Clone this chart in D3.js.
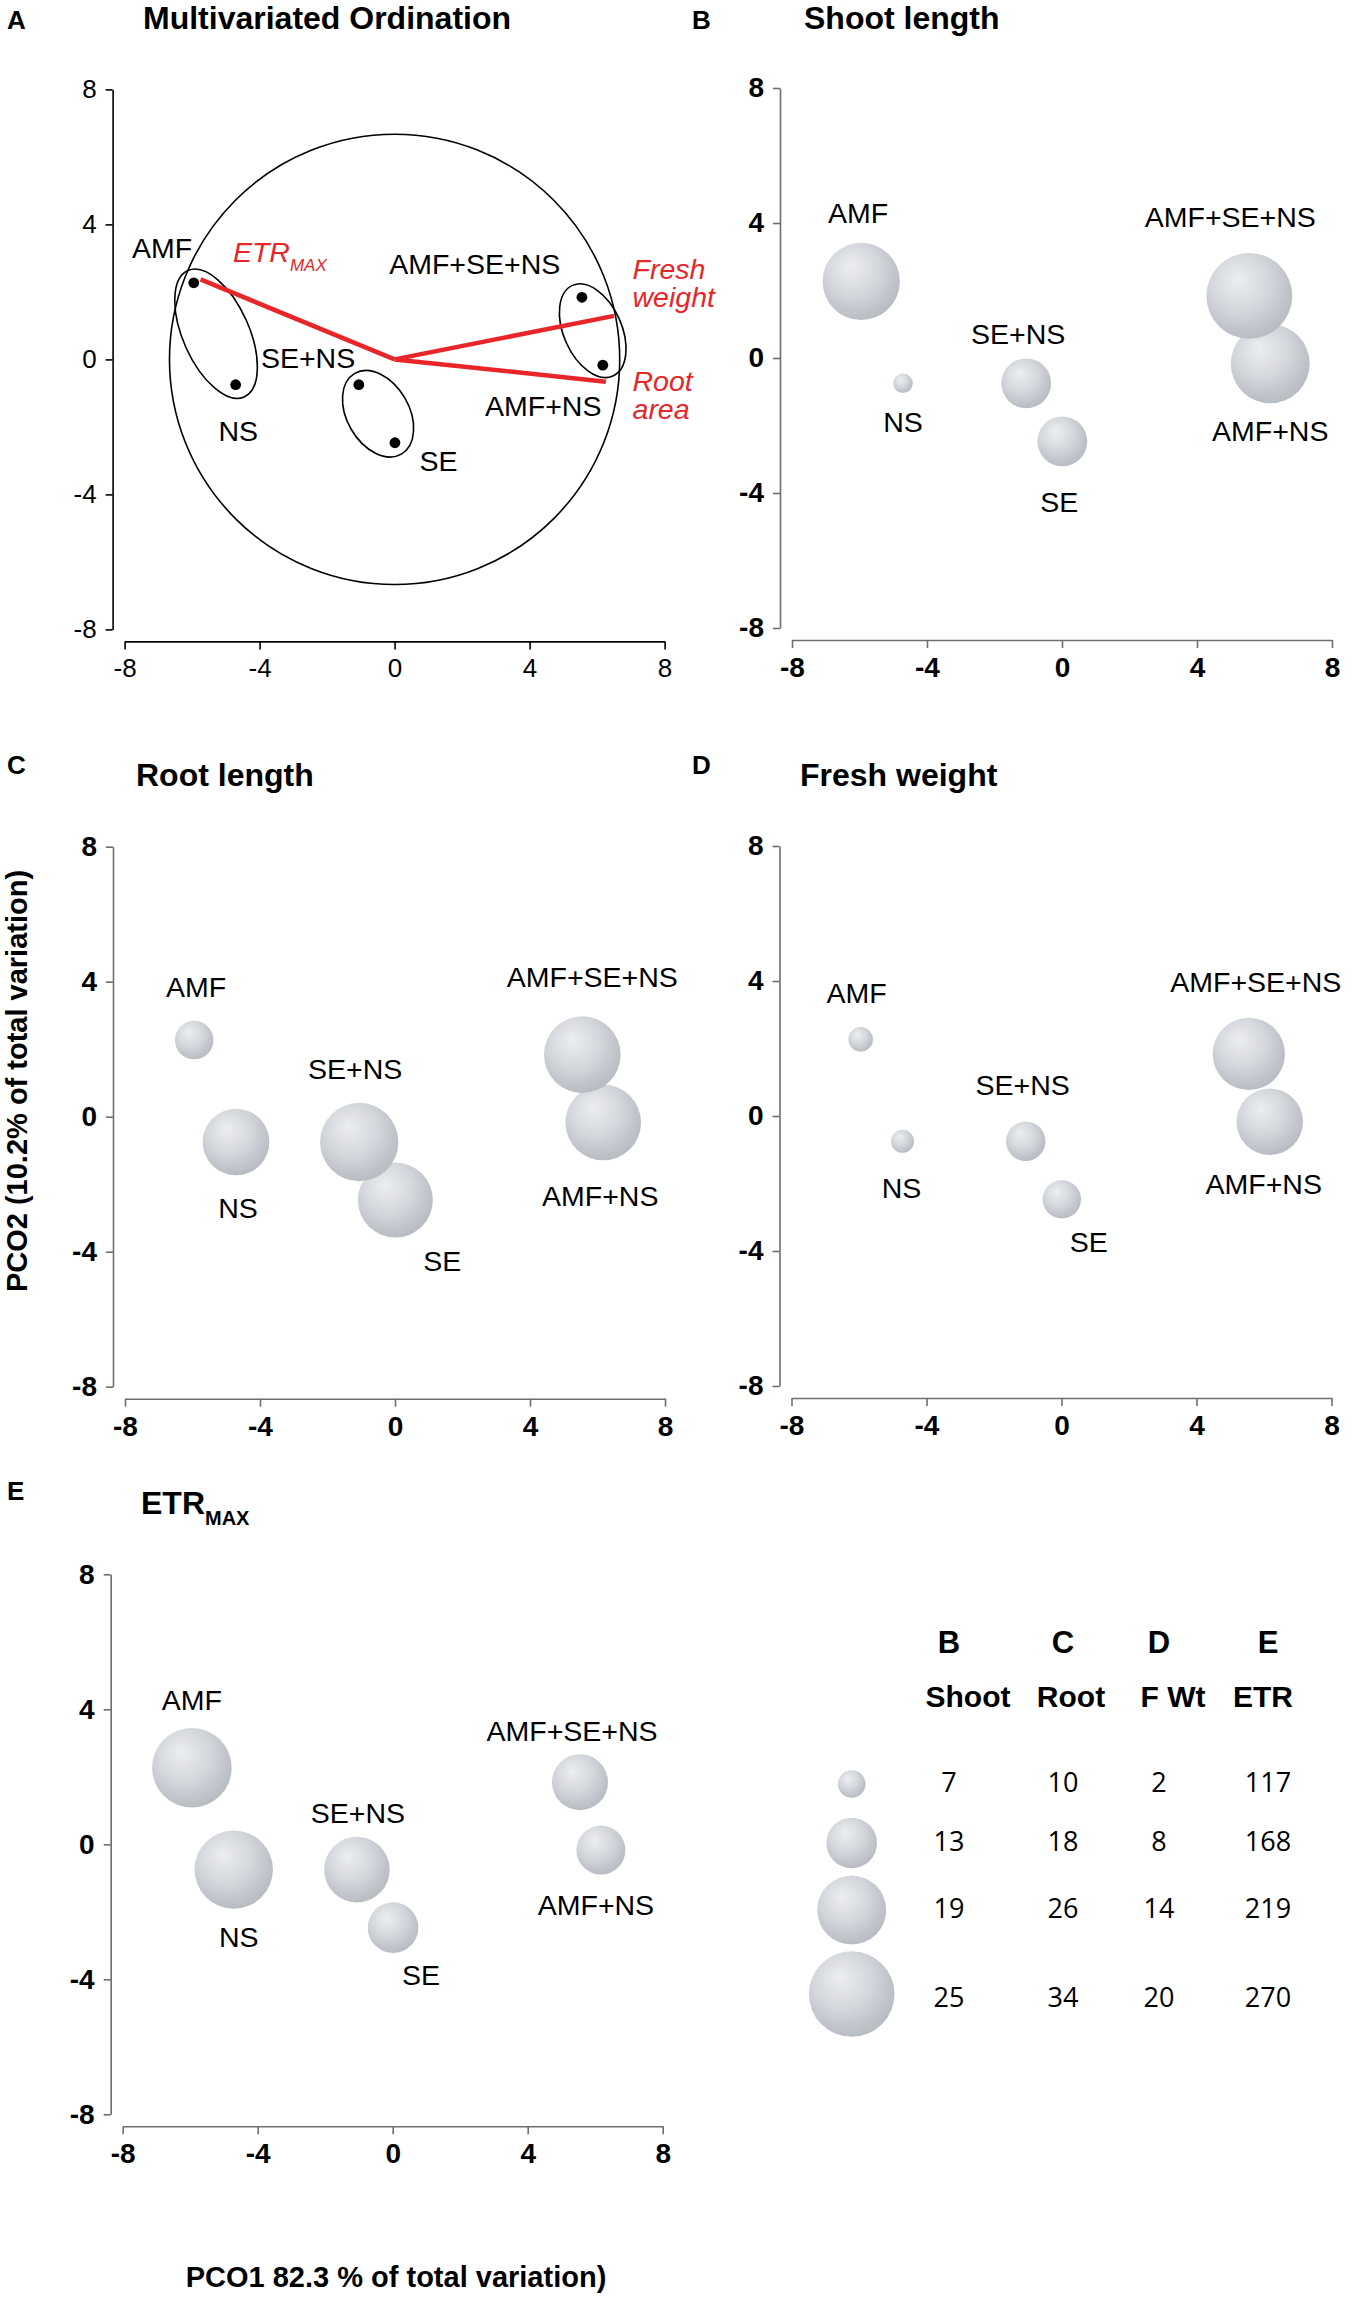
<!DOCTYPE html>
<html>
<head>
<meta charset="utf-8">
<script src="https://cdn.jsdelivr.net/npm/d3@7"></script>
<style>
  body { margin: 0; background: #fff; }
  svg text { font-family: "Liberation Sans", Arial, sans-serif; }
</style>
</head>
<body>
<svg id="fig" width="1357" height="2301"></svg>
<script>
// ---- data ----
const groups = ["AMF", "NS", "SE+NS", "SE", "AMF+SE+NS", "AMF+NS"];
const pco1 = [-5.95, -4.71, -1.06, 0.01, 5.55, 6.17];
const pco2 = [2.27, -0.75, -0.75, -2.47, 1.84, -0.17];

const shootLength = [22.0, 4.9, 12.8, 12.8, 25.1, 22.6];
const rootLength = [13.8, 25.0, 30.5, 28.9, 29.7, 29.2];
const freshWeight = [1.2, 0.8, 5.1, 4.8, 15.2, 13.2];
const etrMax = [251.5, 247.9, 209.6, 168, 183, 164.5];

const legendShoot = [7, 13, 19, 25];
const legendRoot = [10, 18, 26, 34];
const legendFWt = [2, 8, 14, 20];
const legendETR = [117, 168, 219, 270];

const vectorNames = ["ETR", "Fresh weight", "Root area"];
const vectorX = [-5.75, 6.5, 6.26];
const vectorY = [2.37, 1.29, -0.66];
const circleRadius = 6.67;

// ellipses around pairs of groups (data units, angle in degrees on screen)
const ellipseCx = [-5.29, -0.49, 5.87];
const ellipseCy = [0.76, -1.61, 0.85];
const ellipseA = [2.05, 1.38, 1.47];
const ellipseB = [0.98, 0.92, 0.86];
const ellipseAngle = [66, 60, 66];

const tickValues = [-8, -4, 0, 4, 8];

// ---- layout ----
const half = 270;      // 8 units
const axisGap = 282;   // offset of the axes from the origin
const sizeRange = [13.8, 25.3, 34.5, 42.8];
const red = "#e8262a";
const labelSize = 28.5, labelCap = 20.4;
const titleSize = 32;

const panels = {
  A: { x0: 394.6, y0: 359.4, letterY: 29, titleX: 143, titleY: 29, title: "Multivariated Ordination" },
  B: { x0: 1062, y0: 358, letterX: 692, letterY: 29, titleX: 804, titleY: 29, title: "Shoot length",
       values: shootLength, legend: legendShoot,
       labels: [[-3, 20], [0, 19], [-8, 14], [-3, 25], [-19, 26], [0, 17]] },
  C: { x0: 395, y0: 1116.7, letterX: 7, letterY: 774, titleX: 136, titleY: 786, title: "Root length",
       values: rootLength, legend: legendRoot,
       labels: [[2, 24], [2, 22], [-4, 24], [47, 13], [10, 29], [-3, 25]] },
  D: { x0: 1061.5, y0: 1116, letterX: 692, letterY: 774, titleX: 800, titleY: 786, title: "Fresh weight",
       values: freshWeight, legend: legendFWt,
       labels: [[-4, 24], [-1, 25], [-3, 27], [27, 13], [7, 26], [-6, 19]] },
  E: { x0: 392.7, y0: 1844.3, letterX: 7, letterY: 1500, titleX: 141, titleY: 1514, title: "ETR",
       values: etrMax, legend: legendETR,
       labels: [[0, 18], [5, 18], [1, 14], [28, 12], [-8, 13], [-5, 20]] }
};

const svg = d3.select("#fig");

const defs = svg.append("defs");
const grad = defs.append("radialGradient")
  .attr("id", "ball").attr("cx", "0.42").attr("cy", "0.38").attr("r", "0.62")
  .attr("fx", "0.36").attr("fy", "0.3");
grad.append("stop").attr("offset", "0%").attr("stop-color", "#eceef1");
grad.append("stop").attr("offset", "55%").attr("stop-color", "#d3d6db");
grad.append("stop").attr("offset", "100%").attr("stop-color", "#b8bcc3");

const makeScales = p => ({
  x: d3.scaleLinear().domain([-8, 8]).range([p.x0 - half, p.x0 + half]),
  y: d3.scaleLinear().domain([-8, 8]).range([p.y0 + half, p.y0 - half])
});

const drawAxes = (g, p, x, y, plain) => {
  const axColor = plain ? "#000" : "#6d6e71";
  const fmt = d => String(d);
  const yAxis = d3.axisLeft(y).tickValues(tickValues).tickFormat(fmt)
    .tickSize(7).tickSizeOuter(0).tickPadding(9);
  const xAxis = d3.axisBottom(x).tickValues(tickValues).tickFormat(fmt)
    .tickSize(8).tickSizeOuter(0).tickPadding(9);

  const ya = g.append("g").attr("transform", `translate(${p.x0 - axisGap},0)`).call(yAxis);
  const xa = g.append("g").attr("transform", `translate(0,${p.y0 + axisGap})`).call(xAxis);

  [ya, xa].forEach(a => {
    a.selectAll("path, line").attr("stroke", axColor).attr("stroke-width", 1.6);
    a.selectAll("text")
      .attr("fill", "#000")
      .style("font-family", "'Liberation Sans', Arial, sans-serif")
      .style("font-size", plain ? "26px" : "28px")
      .style("font-weight", plain ? "normal" : "bold");
  });
};

const drawHeading = (id, p) => {
  svg.append("text").attr("x", p.letterX === undefined ? 7 : p.letterX).attr("y", p.letterY)
    .attr("font-size", 26).attr("font-weight", "bold").text(id);
  const t = svg.append("text").attr("x", p.titleX).attr("y", p.titleY)
    .attr("font-size", titleSize).attr("font-weight", "bold").text(p.title);
  if (id === "E") {
    t.append("tspan").attr("font-size", 20).attr("dy", 11).text("MAX");
  }
};

// ---- panel A : ordination with vectors ----
const drawOrdination = () => {
  const p = panels.A;
  const { x, y } = makeScales(p);
  const k = x(1) - x(0);
  const g = svg.append("g");
  drawHeading("A", p);
  drawAxes(g, p, x, y, true);

  g.append("circle")
    .attr("cx", x(0)).attr("cy", y(0)).attr("r", circleRadius * k)
    .attr("fill", "none").attr("stroke", "#000").attr("stroke-width", 1.6);

  g.selectAll("ellipse").data(ellipseCx).join("ellipse")
    .attr("transform", (d, i) => `translate(${x(d)},${y(ellipseCy[i])}) rotate(${ellipseAngle[i]})`)
    .attr("rx", (d, i) => ellipseA[i] * k)
    .attr("ry", (d, i) => ellipseB[i] * k)
    .attr("fill", "none").attr("stroke", "#000").attr("stroke-width", 1.6);

  g.selectAll("line.vec").data(vectorNames).join("line")
    .attr("class", "vec")
    .attr("x1", x(0)).attr("y1", y(0))
    .attr("x2", (d, i) => x(vectorX[i])).attr("y2", (d, i) => y(vectorY[i]))
    .attr("stroke", red).attr("stroke-width", 4.5).attr("stroke-linecap", "butt");

  g.selectAll("circle.dot").data(groups).join("circle")
    .attr("class", "dot")
    .attr("cx", (d, i) => x(pco1[i])).attr("cy", (d, i) => y(pco2[i]))
    .attr("r", 5.4).attr("fill", "#000");

  // group labels, anchored in data units
  const groupLabels = [
    ["AMF", -6.0, 2.99, "end"], ["NS", -5.22, -2.41, "start"], ["SE+NS", -3.96, -0.26, "start"],
    ["SE", 0.74, -3.32, "start"], ["AMF+SE+NS", -0.16, 2.54, "start"], ["AMF+NS", 2.68, -1.68, "start"]
  ];
  g.selectAll("text.grp").data(groupLabels).join("text")
    .attr("class", "grp")
    .attr("x", d => x(d[1])).attr("y", d => y(d[2]))
    .attr("text-anchor", d => d[3])
    .attr("font-size", labelSize).text(d => d[0]);

  const etr = g.append("text").attr("x", x(-4.79)).attr("y", y(2.9))
    .attr("fill", red).attr("font-size", labelSize).attr("font-style", "italic").text("ETR");
  etr.append("tspan").attr("font-size", 17).attr("dy", 9).text("MAX");

  const vecLabels = [["Fresh", 2.37], ["weight", 1.54], ["Root", -0.95], ["area", -1.78]];
  g.selectAll("text.vl").data(vecLabels).join("text")
    .attr("class", "vl")
    .attr("x", x(7.05)).attr("y", d => y(d[1]))
    .attr("fill", red).attr("font-size", labelSize).attr("font-style", "italic").text(d => d[0]);
};

// ---- panels B-E : bubble plots ----
const drawBubbles = id => {
  const p = panels[id];
  const { x, y } = makeScales(p);
  const r = d3.scaleLinear().domain(p.legend).range(sizeRange);
  const g = svg.append("g");
  drawHeading(id, p);
  drawAxes(g, p, x, y, false);

  const rows = groups.map((name, i) => ({ name, i, px: pco1[i], py: pco2[i], v: p.values[i] }));

  g.selectAll("circle.bubble")
    .data(rows.slice().sort((a, b) => a.py - b.py))
    .join("circle")
    .attr("class", "bubble")
    .attr("cx", d => x(d.px)).attr("cy", d => y(d.py))
    .attr("r", d => r(d.v))
    .attr("fill", "url(#ball)");

  const above = [true, false, true, false, true, false];
  g.selectAll("text.grp").data(rows).join("text")
    .attr("class", "grp")
    .attr("x", d => x(d.px) + p.labels[d.i][0])
    .attr("y", d => above[d.i]
      ? y(d.py) - r(d.v) - p.labels[d.i][1]
      : y(d.py) + r(d.v) + p.labels[d.i][1] + labelCap)
    .attr("text-anchor", "middle")
    .attr("font-size", labelSize)
    .text(d => d.name);
};

// ---- size legend ----
const drawLegend = () => {
  const g = svg.append("g");
  const circleX = 851.7;
  const rowY = [1784, 1843, 1910, 1994];
  const colX = [949, 1063, 1159, 1268];
  const heads = ["B", "C", "D", "E"];
  const names = ["Shoot", "Root", "F Wt", "ETR"];
  const cols = [legendShoot, legendRoot, legendFWt, legendETR];

  g.selectAll("circle").data(sizeRange).join("circle")
    .attr("cx", circleX).attr("cy", (d, i) => rowY[i]).attr("r", d => d)
    .attr("fill", "url(#ball)");

  g.selectAll("text.head").data(heads).join("text")
    .attr("class", "head")
    .attr("x", (d, i) => colX[i]).attr("y", 1653)
    .attr("text-anchor", "middle").attr("font-size", 31).attr("font-weight", "bold").text(d => d);
  g.selectAll("text.name").data(names).join("text")
    .attr("class", "name")
    .attr("x", (d, i) => colX[i] + [19, 8, 14, -5][i]).attr("y", 1707)
    .attr("text-anchor", "middle").attr("font-size", 30).attr("font-weight", "bold").text(d => d);

  cols.forEach((vals, c) => {
    g.selectAll(`text.v${c}`).data(vals).join("text")
      .attr("class", `v${c}`)
      .attr("x", colX[c]).attr("y", (d, i) => rowY[i] + (i === 3 ? 13 : 8))
      .attr("text-anchor", "middle")
      .style("font-family", "'Open Sans', 'Noto Sans', sans-serif")
      .attr("font-size", 27).text(d => d);
  });
};

drawOrdination();
["B", "C", "D", "E"].forEach(drawBubbles);
drawLegend();

// shared axis titles
svg.append("text")
  .attr("transform", "translate(27,1081) rotate(-90)")
  .attr("text-anchor", "middle").attr("font-size", 29).attr("font-weight", "bold")
  .text("PCO2 (10.2% of total variation)");
svg.append("text")
  .attr("x", 396).attr("y", 2287)
  .attr("text-anchor", "middle").attr("font-size", 29).attr("font-weight", "bold")
  .text("PCO1 82.3 % of total variation)");
</script>
</body>
</html>
